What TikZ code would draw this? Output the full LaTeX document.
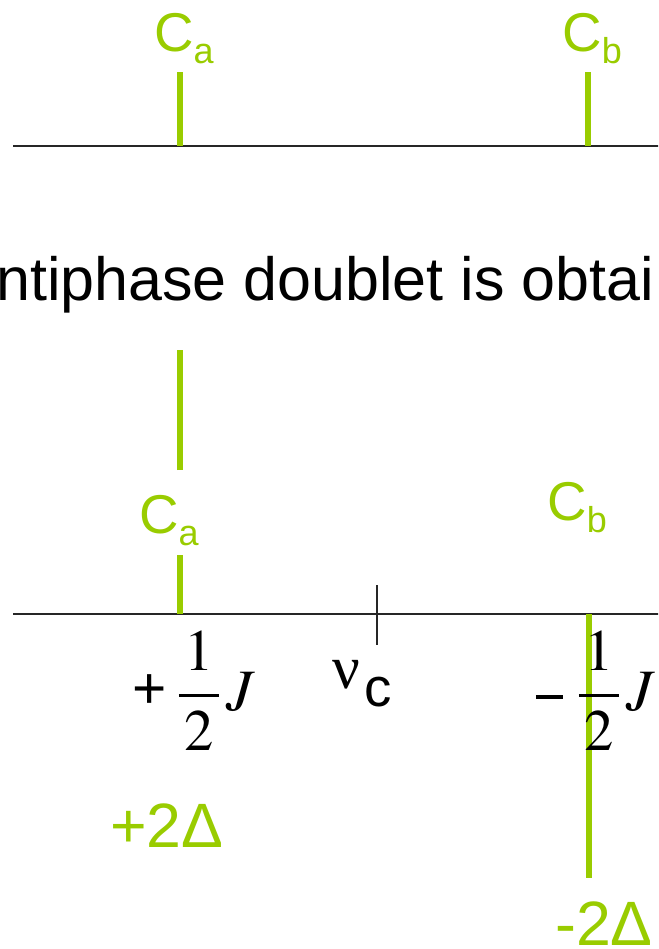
\documentclass[tikz,border=0pt]{standalone}
\usepackage{mathptmx}
\usepackage{fontspec}
\setmainfont{Liberation Sans}
\newfontfamily\nufont{Liberation Serif}
\definecolor{peakgreen}{RGB}{153,204,0}
\newcommand{\carbon}[1]{C\raisebox{-9pt}{\fontsize{27}{27}\selectfont #1}}
\newcommand{\halfJ}{$\displaystyle\frac{\kern4pt1\kern4pt}{\kern4pt2\kern4pt}\,J$}
\tikzset{
    axisline/.style={line width=1.5pt,black!85},
    peakline/.style={line width=5.2pt,peakgreen},
    centretick/.style={line width=1.1pt,black!85},
    peaklabel/.style={inner sep=0pt,anchor=base west,text=peakgreen,font=\fontsize{41}{41}\selectfont},
    intlabel/.style={inner sep=0pt,anchor=base west,text=peakgreen,font=\fontsize{47}{47}\selectfont},
    couplabel/.style={inner sep=0pt,anchor=base east,font=\fontsize{44}{44}\selectfont},
    bodytext/.style={inner sep=0pt,anchor=base west,font=\fontsize{45.75}{46}\selectfont}
}
\begin{document}
\begin{tikzpicture}[x=0.75pt,y=-0.75pt]
    \useasboundingbox (0,0) rectangle (658,949);
    \clip (0,0) rectangle (658,949);
    % upper spectrum
    \coordinate (upleft) at (13,146);
    \coordinate (upright) at (670,146);
    \coordinate (upbaseA) at (180,146);
    \coordinate (uppeakA) at (180,72);
    \coordinate (upbaseB) at (588,146);
    \coordinate (uppeakB) at (588,72);
    \draw[axisline] (upleft) -- (upright);
    \draw[peakline] (upbaseA) -- (uppeakA);
    \draw[peakline] (upbaseB) -- (uppeakB);
    \node[peaklabel] (uplabA) at (154,52) {\carbon{a}};
    \node[peaklabel] (uplabB) at (562,52) {\carbon{b}};
    % sentence
    \node[bodytext] (sentence) at (-4,300) {ntiphase doublet is obtai};
    % lower spectrum
    \coordinate (lowleft) at (13,614);
    \coordinate (lowright) at (670,614);
    \coordinate (lowbaseA) at (180,614);
    \coordinate (gapA) at (180,555);
    \coordinate (gapAtop) at (180,470);
    \coordinate (lowpeakA) at (180,350);
    \coordinate (lowbaseB) at (589,614);
    \coordinate (lowpeakB) at (589,878);
    \coordinate (ticktop) at (377,585);
    \coordinate (tickbot) at (377,645);
    \draw[axisline] (lowleft) -- (lowright);
    \draw[centretick] (ticktop) -- (tickbot);
    \draw[peakline] (lowbaseA) -- (gapA);
    \draw[peakline] (gapAtop) -- (lowpeakA);
    \draw[peakline] (lowbaseB) -- (lowpeakB);
    \node[peaklabel] (lowlabA) at (139,533) {\carbon{a}};
    \node[peaklabel] (lowlabB) at (547,520) {\carbon{b}};
    \node[couplabel] (plusJ) at (256,710)
        {\raisebox{1pt}{\fontsize{44}{44}\selectfont +}\hspace{8pt}\halfJ};
    \node[couplabel] (minusJ) at (656,710)
        {\rule[8.5pt]{20pt}{3pt}\hspace{11pt}\halfJ};
    \node[inner sep=0pt,anchor=base west] (nuc) at (332,688)
        {{\nufont\fontsize{46}{46}\selectfont ν}\kern3pt\raisebox{-14pt}{\fontsize{41}{41}\selectfont c}};
    \node[intlabel] (plusD) at (110,847) {+2Δ};
    \node[intlabel] (minusD) at (555,945) {-2Δ};
\end{tikzpicture}
\end{document}
